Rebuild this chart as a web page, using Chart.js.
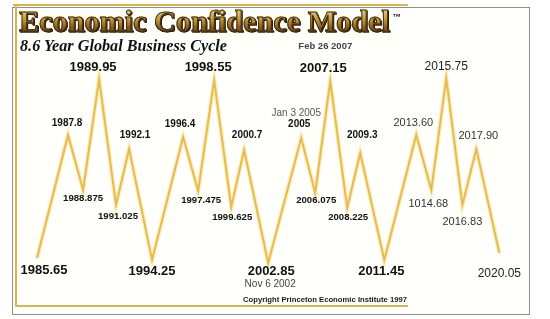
<!DOCTYPE html>
<html>
<head>
<meta charset="utf-8">
<script src="https://cdn.jsdelivr.net/npm/chart.js@4/dist/chart.umd.min.js"></script>
<style>
  html, body { margin:0; padding:0; background:#ffffff; }
  #wrap { position:relative; width:550px; height:319px; overflow:hidden; background:#ffffff; }
  #panel { position:absolute; left:12px; top:7px; width:516px; height:306px; border:1.5px solid #8e8e8e; background:#fffffb; }
  .gold { position:absolute; background:#d8b54c; }
  canvas { position:absolute; left:0; top:0; }
  #title { position:absolute; left:19px; top:6px; font-family:"Liberation Serif","DejaVu Serif",serif; font-weight:bold; font-size:30px; line-height:30px; white-space:nowrap;
    color:#c9a14a;
    background:linear-gradient(180deg,#f3dc96 0%,#c79a3e 45%,#7a5520 75%,#b48a3c 100%);
    -webkit-background-clip:text; background-clip:text; -webkit-text-fill-color:transparent;
    -webkit-text-stroke:0.9px #3b2608;
    filter:drop-shadow(1.5px 1.5px 0 #2c1c06); letter-spacing:0.1px; }
  #tm { position:absolute; left:392px; top:12px; font-family:"Liberation Sans",Arial,sans-serif; font-weight:bold; font-size:9px; color:#222; }
  #subtitle { position:absolute; left:20px; top:37px; font-family:"Liberation Serif","DejaVu Serif",serif; font-weight:bold; font-style:italic; font-size:16.2px; line-height:18px; color:#111; white-space:nowrap; }
  #copy { position:absolute; left:243px; top:295px; font-family:"Liberation Sans",Arial,sans-serif; font-weight:bold; font-size:7.7px; line-height:9px; color:#1a1a1a; white-space:nowrap; }
</style>
</head>
<body>
<div id="wrap">
  <div id="panel"></div>
  <div class="gold" style="left:13px; top:4px; width:395px; height:2px;"></div>
  <div class="gold" style="left:15px; top:5px; width:1.5px; height:302px;"></div>
  <div class="gold" style="left:15px; top:305px; width:393px; height:2px;"></div>
  <canvas id="c" width="550" height="319"></canvas>
  <div id="title">Economic Confidence Model</div>
  <div id="tm">™</div>
  <div id="subtitle">8.6 Year Global Business Cycle</div>
  <div id="copy">Copyright Princeton Economic Institute 1997</div>
</div>
<script>
// ---- data ----
const cycleLabels = ['1985.65','1987.8','1988.875','1989.95','1991.025','1992.1','1994.25','1996.4','1997.475','1998.55','1999.625','2000.7','2002.85','2005','2006.075','2007.15','2008.225','2009.3','2011.45','2013.60','1014.68','2015.75','2016.83','2017.90','2020.05'];
const cyclePosition = [1985.65,1987.96,1989.08,1990.27,1991.53,1992.50,1994.21,1996.52,1997.64,1998.83,2000.10,2001.06,2002.85,2005.31,2006.35,2007.47,2008.73,2009.70,2011.49,2013.87,2014.99,2016.10,2017.30,2018.34,2020.05];
const confidenceLevel = [61,184,129,240,114,170,59,182,128,239,112,169,56,181,126,238,111,166,59,184,129,241,114,170,66];
const noteIndex = [12,13,15];
const noteText = ['Nov 6 2002','Jan 3 2005','Feb 26 2007'];

// ---- styles (kept apart from data) ----
const labelKind = ['major','minor','minorS','major','minorS','minor','major','minor','minorS','major','minorS','minor','major','minor','minorS','major','minorS','minor','major','light','light','lightMajor','light','light','lightMajor'];
const labelOffset = [[7,12],[-1,-12],[0,8],[-6,-12],[2,11],[6,-14],[0,11],[-3,-13],[3,9],[-6,-13],[1,10],[3,-15],[3,8],[-2,-14],[1,7],[-7,-13],[1,9],[2,-18],[-3,11],[-3,-12],[-3,14],[0,-11],[0,17],[2,-13],[0,21]];
const noteOffset = [[2,21],[-5,-25],[-5,-35]];
const noteStyle = [['10px','normal','#444'],['10px','normal','#555'],['9.5px','bold','#444']];
const kindStyle = {
  major:['bold','13px','#111'],
  minor:['bold','10px','#111'],
  minorS:['bold','9.6px','#111'],
  light:['normal','11px','#333'],
  lightMajor:['normal','12px','#222']
};
const FONT = '"Liberation Sans", Arial, sans-serif';

const points = cyclePosition.map((x,i)=>({x:x, y:confidenceLevel[i]}));

const labelPlugin = {
  id:'vertexLabels',
  afterDatasetsDraw(chart){
    const ctx = chart.ctx;
    const meta = chart.getDatasetMeta(1);
    ctx.save();
    ctx.textAlign = 'center';
    ctx.textBaseline = 'middle';
    meta.data.forEach((el,i)=>{
      const s = kindStyle[labelKind[i]];
      ctx.font = s[0]+' '+s[1]+' '+FONT;
      ctx.fillStyle = s[2];
      ctx.fillText(cycleLabels[i], el.x + labelOffset[i][0], el.y + labelOffset[i][1]);
    });
    noteIndex.forEach((idx,k)=>{
      const el = meta.data[idx];
      const s = noteStyle[k];
      ctx.font = s[1]+' '+s[0]+' '+FONT;
      ctx.fillStyle = s[2];
      ctx.fillText(noteText[k], el.x + noteOffset[k][0], el.y + noteOffset[k][1]);
    });
    ctx.restore();
  }
};

new Chart(document.getElementById('c'), {
  type:'line',
  data:{
    datasets:[
      { data:points, borderColor:'rgba(248,218,120,0.45)', borderWidth:4.5, pointRadius:0, tension:0, fill:false },
      { data:points, borderColor:'#d9a232', borderWidth:2, pointRadius:0, tension:0, fill:false }
    ]
  },
  options:{
    responsive:false,
    animation:false,
    devicePixelRatio:1,
    layout:{ padding:0 },
    plugins:{ legend:{display:false}, tooltip:{enabled:false}, title:{display:false} },
    scales:{
      x:{ type:'linear', min:1982.897, max:2023.82, display:false },
      y:{ type:'linear', min:0, max:319, display:false }
    }
  },
  plugins:[labelPlugin]
});
</script>
</body>
</html>
